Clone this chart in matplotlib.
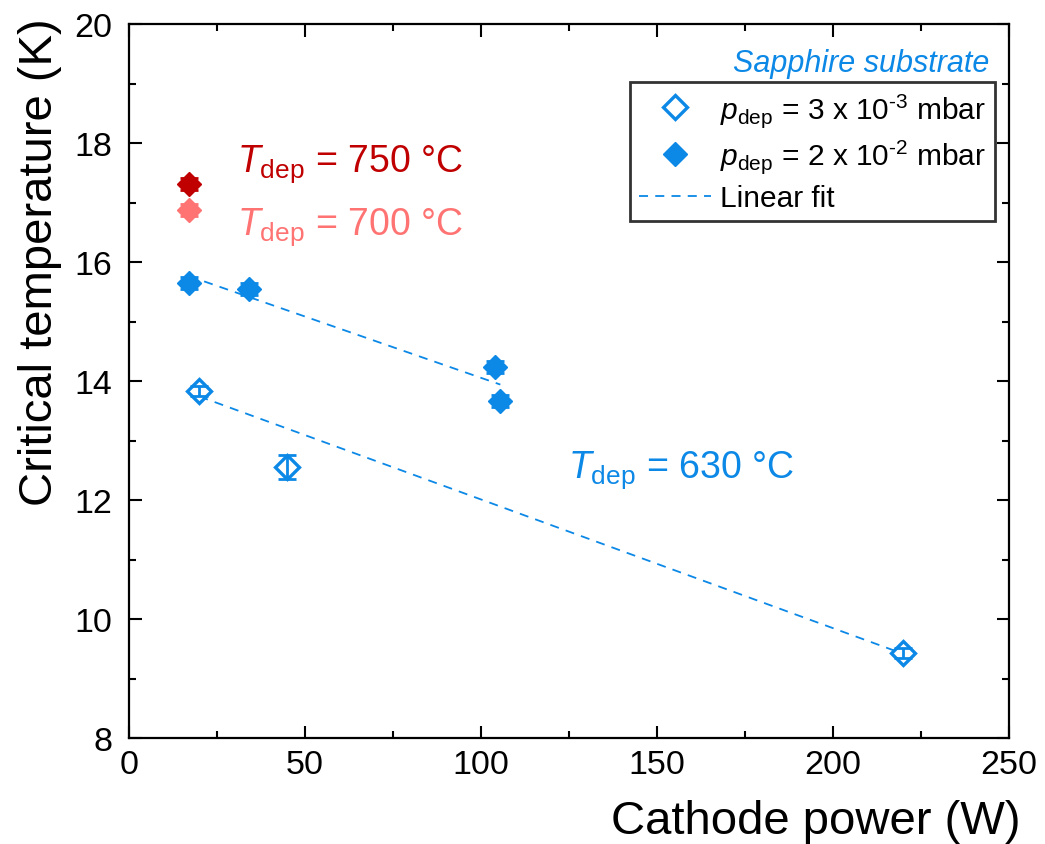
import matplotlib
matplotlib.use("Agg")
import matplotlib.pyplot as plt
import numpy as np
from matplotlib.lines import Line2D

plt.rcParams["font.family"] = ["Liberation Sans", "DejaVu Sans"]
plt.rcParams["mathtext.fontset"] = "custom"
plt.rcParams["mathtext.rm"] = "Liberation Sans"
plt.rcParams["mathtext.it"] = "Liberation Sans:italic"

BLUE, DRED, LRED = "#0C88E6", "#C00000", "#FF7373"

# ---- data (cathode power in W, Tc in K)
p_low_x = [20, 45, 220]            # p_dep = 3e-3 mbar, open
p_low_tc = [13.83, 12.56, 9.43]
p_low_err = [0.08, 0.2, 0.09]

p_high_x = [17, 34, 104, 105.5]    # p_dep = 2e-2 mbar, filled
p_high_tc = [15.65, 15.55, 14.23, 13.66]
p_high_err = [0.1, 0.1, 0.1, 0.1]

t750_x, t750_tc, t750_err = [17], [17.31], [0.1]
t700_x, t700_tc, t700_err = [17], [16.87], [0.1]

fig = plt.figure(figsize=(10.45, 8.45), dpi=100)
ax = fig.add_axes([0.1234, 0.1254, 0.8422, 0.845])

# linear fits (weighted by error bars)
for xs, ys, es in ((p_low_x, p_low_tc, p_low_err), (p_high_x, p_high_tc, p_high_err)):
    k, b = np.polyfit(xs, ys, 1, w=1 / np.array(es))
    xx = np.array([min(xs), max(xs)])
    ax.plot(xx, k * xx + b, color=BLUE, lw=1.3, dashes=(5, 4), zorder=2)

ms = 12.5
ax.plot(p_low_x, p_low_tc, "D", ms=ms, mfc="white", mec=BLUE, mew=2.4, ls="none", zorder=3)
ax.plot(p_high_x, p_high_tc, "D", ms=ms, color=BLUE, ls="none", zorder=3)
ax.plot(t750_x, t750_tc, "D", ms=ms, color=DRED, ls="none", zorder=3)
ax.plot(t700_x, t700_tc, "D", ms=ms, color=LRED, ls="none", zorder=3)
for xs, ys, es, c in ((p_low_x, p_low_tc, p_low_err, BLUE),
                      (p_high_x, p_high_tc, p_high_err, BLUE),
                      (t750_x, t750_tc, t750_err, DRED),
                      (t700_x, t700_tc, t700_err, LRED)):
    ax.errorbar(xs, ys, yerr=es, fmt="none", ecolor=c, elinewidth=2,
                capsize=6.5, capthick=2, zorder=4)

ax.text(30.7, 17.53, r"$T_\mathrm{dep}$ = 750 °C", color=DRED, fontsize=27, va="baseline")
ax.text(30.7, 16.47, r"$T_\mathrm{dep}$ = 700 °C", color=LRED, fontsize=27, va="baseline")
ax.text(124.7, 12.40, r"$T_\mathrm{dep}$ = 630 °C", color=BLUE, fontsize=27, va="baseline")
ax.text(0.978, 0.934, "Sapphire substrate", color=BLUE, fontsize=22, style="italic",
        ha="right", va="baseline", transform=ax.transAxes)

handles = [
    Line2D([], [], marker="D", ms=ms, mfc="white", mec=BLUE, mew=2.4, ls="none"),
    Line2D([], [], marker="D", ms=ms, color=BLUE, ls="none"),
    Line2D([], [], color=BLUE, lw=1.3, dashes=(5, 4)),
]
labels = [r"$p_\mathrm{dep}$ = 3 x 10$^{\text{-}3}$ mbar",
          r"$p_\mathrm{dep}$ = 2 x 10$^{\text{-}2}$ mbar",
          "Linear fit"]
leg = ax.legend(handles, labels, loc="upper right", bbox_to_anchor=(0.984, 0.919),
                fontsize=21.5, frameon=True, fancybox=False, edgecolor="black",
                handlelength=2.4, handletextpad=0.3, borderpad=0.3, labelspacing=0.3,
                borderaxespad=0)
leg.get_frame().set_linewidth(2)

ax.set_xlim(0, 250)
ax.set_ylim(8, 20)
ax.set_xticks(np.arange(0, 251, 50))
ax.set_xticks(np.arange(25, 250, 50), minor=True)
ax.set_yticks(np.arange(8, 21, 2))
ax.set_yticks(np.arange(9, 20, 2), minor=True)
ax.tick_params(which="both", direction="in", top=True, right=True, width=1.5, labelsize=24.5)
ax.tick_params(which="major", length=9)
ax.tick_params(axis="x", which="major", pad=8)
ax.tick_params(axis="y", which="major", pad=12)
ax.tick_params(which="minor", length=5)
for s in ax.spines.values():
    s.set_linewidth(1.6)

ax.set_xlabel("Cathode power (W)", fontsize=34)
ax.xaxis.set_label_coords(1.013, -0.085)
ax.xaxis.label.set_horizontalalignment("right")
ax.set_ylabel("Critical temperature (K)", fontsize=34)
ax.yaxis.set_label_coords(-0.076, 0.668)

fig.savefig("out.png", dpi=100)
